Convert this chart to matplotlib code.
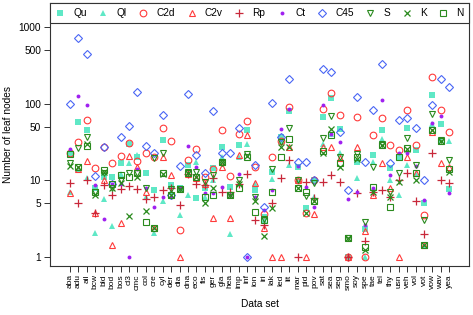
import matplotlib
matplotlib.use("Agg")
import matplotlib.pyplot as plt
import numpy as np

plt.rcParams['font.family'] = ['Liberation Sans', 'DejaVu Sans']

datasets = ["aba","adu","ail","bcw","bld","bod","bos","cl3","cmc","col","cre","cyl","der","dia",
            "dna","eco","fis","ger","gla","hea","imp","inf","ion","iri","lak","led","lit","mar",
            "pid","pov","sat","sea","seg","smo","soy","spe","tae","tel","thy","usn","veh","vol",
            "vot","vow","wav","yea"]

Qu  = [22,57.6,45.6,8,11,10.9,17,30,20,12.3,7.5,34,8.7,8,15.8,5.8,8,14.3,27.5,8.2,28.8,45,7.5,3.3,
       13,37,81,15,4.3,10,67.5,119,46,1.0,17.5,2.3,21.4,45,14.3,20,48,25,5.0,129,54,7.8]
Ql  = [7,14,10.6,2.07,5.65,2.5,12,16.7,21.4,6,2.05,5.3,7,3.5,6.4,17.5,6,10,20,2.0,20,30,9,3.0,
       10.3,33,15.8,10,4.3,6,30,40,22.5,1.0,10.6,1.0,17.5,35,10,6.4,15.8,12,1.4,55,34,32.5]
C2d = [23,31.6,62,14.3,27.5,17,20.7,30.4,18,23,20,47.6,32.5,2.25,18.4,25.5,11.1,14,45.3,11.4,40,59.8,
       15,3.6,19.9,33,91,10,3.7,10,86,136,71,1.0,67.5,1.0,38.6,65.5,29,25,82.6,29,3.5,222,82.6,42]
C2v = [6.9,14,18,3.8,10,1.43,2.75,20.7,15,7,2.4,20,11.7,1.0,12,10.6,9,3.2,15,3.2,21.4,38.6,9.1,2.4,
       1.0,1.0,27.5,10,1.0,3.6,27.5,27.5,19.4,1.0,27.5,2.2,6.4,16.7,8,1.0,20,12.3,1.43,42,16.7,15]
Rp  = [9.1,5.1,10.1,3.8,8.7,6.5,7.6,8.4,7.8,5.7,6,7.5,8,4.8,12,9,8.7,10.6,7.1,7,9,12,3.0,2.6,
       5.0,10.6,18.4,1.0,9.6,5.8,9.6,11.7,9.6,1.0,6.8,1.6,7.1,7.5,6.1,10,12.3,5.3,2.0,22.5,10,9.1]
Ct  = [25.4,124,96,8.6,3.1,9,9,1.0,14,8,4.5,6.1,6,8,27.7,15,6.8,6.8,8.2,6.5,12,1.0,6.1,4.1,
       7.5,46.7,85,15.3,8.2,4.5,97,40,31.5,5.65,7.1,2.6,8,112,11.7,22.5,22.5,15.3,5.5,56,69,6.8]
C45 = [99,710,443,11.4,27.5,9,36.4,50.6,141,28,22.5,70,6.5,15.2,133,21.4,12.3,80,22.5,22.5,48.5,1.0,
       15.8,4.5,102,37,209,17.5,17.5,10,280,256,42,7.5,123,17.5,82.6,325,16.7,62,65.5,48.5,10,97,209,163]
S   = [16.7,26,36.4,7,12.4,8,10,12.6,12.6,8,19.4,22.5,7.8,7.6,13,13,9.6,11.7,17,6.5,10,22,6.1,3.1,
       13.9,32,48,10,6.3,9.1,36,68,20,1.75,22,2.9,15,30,7,12.3,35.9,15.8,3.0,74,34,18.4]
K   = [15.5,15,30,6.5,13,8,9.1,3.4,11,4.0,2.4,12,6.4,7.6,12.5,11,5.0,8,17.5,6.5,9,21,5.3,1.9,
       4.3,27.5,27,8,3.7,5.3,23,47,15,1.75,19,1.23,7,29,6.1,9.6,25.6,10,1.43,45,32.5,13]
N   = [22,15,28,7,13.6,9,11.7,11,12.6,2.9,2.4,12.3,6.4,7.6,12.5,11,6.1,6.4,17.5,6.5,8,20,3.9,3.0,
       7.1,20,34.5,8,7,5.3,24,39,16.7,1.75,20,1.36,8.2,29,4.5,20,26,12.3,1.43,45,32.5,14]

series = [
    ("Qu",  Qu,  's', '#5FE8C6', True,  4.0),
    ("Ql",  Ql,  '^', '#5FE8C6', True,  4.4),
    ("C2d", C2d, 'o', '#FF3B3B', False, 4.8),
    ("C2v", C2v, '^', '#FF3B3B', False, 5.0),
    ("Rp",  Rp,  '+', '#C8283A', False, 6.0),
    ("Ct",  Ct,  'o', '#A020F0', True,  2.8),
    ("C45", C45, 'D', '#4A66F5', False, 4.0),
    ("S",   S,   'v', '#2A8A1E', False, 5.0),
    ("K",   K,   'x', '#2A8A1E', False, 4.2),
    ("N",   N,   's', '#2A8A1E', False, 3.8),
]

fig = plt.figure(figsize=(4.73, 3.15), dpi=100)
ax = fig.add_axes([50/473, 1-266/315, (469-50)/473, (266-3)/315])

x = np.arange(1, len(datasets)+1)
for name, vals, mk, col, filled, ms in series:
    if mk in ('+', 'x'):
        ax.plot(x, vals, linestyle='none', marker=mk, color=col, markersize=ms,
                markeredgewidth=0.9, label=name)
    elif filled:
        ax.plot(x, vals, linestyle='none', marker=mk, color=col, markersize=ms,
                markeredgewidth=0, label=name)
    else:
        ax.plot(x, vals, linestyle='none', marker=mk, markerfacecolor='none',
                markeredgecolor=col, markersize=ms, markeredgewidth=0.8, label=name)

ax.set_yscale('log')
ppd = 76.7
ylo = 10**(-(266-257)/ppd)
yhi = 10**((257-3)/ppd)
ax.set_ylim(ylo, yhi)
dx = 8.43
ax.set_xlim(1-(70-50)/dx, 46+(469-449.3)/dx)

yt = [1, 5, 10, 50, 100, 500, 1000]
ax.set_yticks(yt)
ax.set_yticklabels([str(v) for v in yt])
ax.yaxis.set_minor_locator(matplotlib.ticker.NullLocator())
ax.set_xticks(x)
ax.set_xticklabels(datasets, rotation=90, fontsize=6.0)
ax.tick_params(axis='y', labelsize=7.3, length=4.5, width=0.7, pad=2, color='#333333')
ax.tick_params(axis='x', length=4.5, width=0.7, pad=1.5, color='#333333')
for sp in ax.spines.values():
    sp.set_linewidth(0.8)
    sp.set_color('#333333')

ax.set_xlabel("Data set", fontsize=7.3, labelpad=6)
ax.set_ylabel("Number of leaf nodes", fontsize=7.3, labelpad=4)

h = (27-3)/(266-3)
leg = ax.legend(ncol=10, loc='upper left', bbox_to_anchor=(0, 1-h, 1, h), mode='expand',
                borderaxespad=0, fontsize=7.3, handlelength=1.0, handletextpad=0.8,
                frameon=True, fancybox=False, edgecolor='#333333', framealpha=1,
                borderpad=0.5, columnspacing=0.5)
leg.get_frame().set_linewidth(0.8)

fig.savefig("out.png", dpi=100)
